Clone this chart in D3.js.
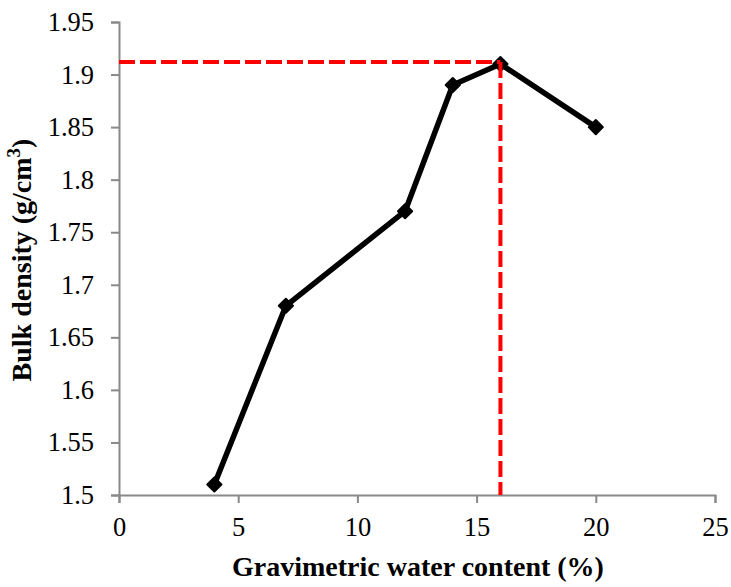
<!DOCTYPE html>
<html>
<head>
<meta charset="utf-8">
<script src="https://cdn.jsdelivr.net/npm/d3@7"></script>
<style>
  html, body { margin: 0; padding: 0; background: #fff; }
  svg { display: block; }
</style>
</head>
<body>
<svg id="chart" width="731" height="587"></svg>
<script>
// Data
const waterContent = [4, 7, 12, 14, 16, 20];
const bulkDensity = [1.51, 1.68, 1.77, 1.89, 1.91, 1.85];
const xTicks = [0, 5, 10, 15, 20, 25];
const yTicks = [1.5, 1.55, 1.6, 1.65, 1.7, 1.75, 1.8, 1.85, 1.9, 1.95];
const optimumWater = [16];
const maxDensity = [1.912];
const xTitle = "Gravimetric water content (%)";
const yTitle = "Bulk density (g/cm";

const svg = d3.select("#chart");
const margin = { left: 119, right: 16, top: 22, bottom: 92 };
const W = 731, H = 587;

const x = d3.scaleLinear().domain([0, 25]).range([margin.left, W - margin.right]);
const y = d3.scaleLinear().domain([1.5, 1.95]).range([H - margin.bottom, margin.top]);

const axisColor = "#898989";
const font = "'Liberation Serif', 'Times New Roman', serif";

// X axis
const gx = svg.append("g")
  .attr("transform", `translate(0,${y(1.5)})`)
  .call(d3.axisBottom(x).tickValues(xTicks).tickSize(8).tickPadding(14).tickFormat(d3.format("d")));
// Y axis
const gy = svg.append("g")
  .attr("transform", `translate(${x(0)},0)`)
  .call(d3.axisLeft(y).tickValues(yTicks).tickSize(8).tickPadding(17).tickFormat(d => String(+d.toFixed(2))));

[gx, gy].forEach(g => {
  g.select(".domain").attr("stroke", axisColor).attr("stroke-width", 2);
  g.selectAll(".tick line").attr("stroke", axisColor).attr("stroke-width", 2);
  g.selectAll(".tick text").attr("fill", "#000").style("font-family", font).style("font-size", "26.5px");
});

// Data line
const line = d3.line().x(d => x(d[0])).y(d => y(d[1]));
const pts = waterContent.map((w, i) => [w, bulkDensity[i]]);
svg.append("path")
  .datum(pts)
  .attr("d", line)
  .attr("fill", "none")
  .attr("stroke", "#000")
  .attr("stroke-width", 5.5)
  .attr("stroke-linejoin", "round");

// Markers (diamonds)
const sym = d3.symbol().type(d3.symbolSquare).size(100);
svg.selectAll("path.mark")
  .data(pts)
  .join("path")
  .attr("class", "mark")
  .attr("d", sym)
  .attr("transform", d => `translate(${x(d[0])},${y(d[1])}) rotate(45)`)
  .attr("fill", "#000")
  .attr("stroke", "#000")
  .attr("stroke-width", 2)
  .attr("stroke-linejoin", "round");

// Red dashed guide lines
svg.append("line")
  .attr("x1", x(0)).attr("x2", x(optimumWater[0]))
  .attr("y1", y(maxDensity[0])).attr("y2", y(maxDensity[0]))
  .attr("stroke", "#ff0000").attr("stroke-width", 4).attr("stroke-dasharray", "16,5");
svg.append("line")
  .attr("x1", x(optimumWater[0])).attr("x2", x(optimumWater[0]))
  .attr("y1", y(maxDensity[0])).attr("y2", y(1.5))
  .attr("stroke", "#ff0000").attr("stroke-width", 4).attr("stroke-dasharray", "16,5");

// Axis titles
svg.append("text")
  .attr("x", 418)
  .attr("y", 576)
  .attr("text-anchor", "middle")
  .style("font-family", font)
  .style("font-weight", "bold")
  .style("font-size", "28px")
  .text(xTitle);

const yt = svg.append("text")
  .attr("transform", `translate(31,${260}) rotate(-90)`)
  .attr("text-anchor", "middle")
  .style("font-family", font)
  .style("font-weight", "bold")
  .style("font-size", "28px");
yt.append("tspan").text(yTitle);
yt.append("tspan").attr("dy", -11).style("font-size", "19px").text("3");
yt.append("tspan").attr("dy", 11).text(")");
</script>
</body>
</html>
